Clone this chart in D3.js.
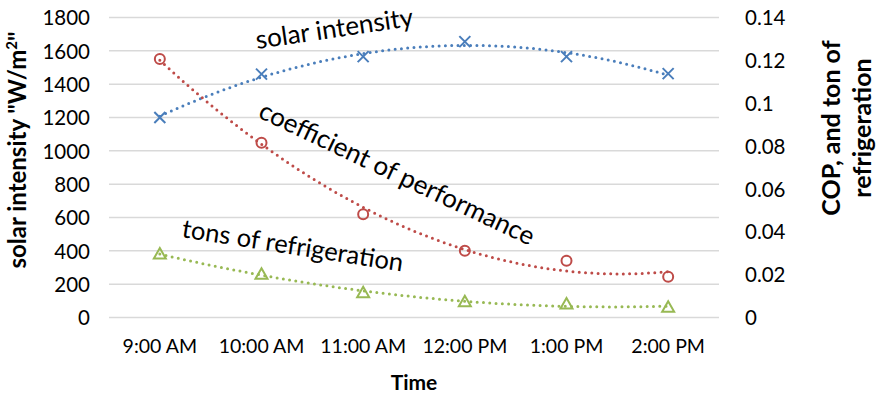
<!DOCTYPE html>
<html>
<head>
<meta charset="utf-8">
<script src="https://cdn.jsdelivr.net/npm/d3@7"></script>
<style>
  html, body { margin: 0; padding: 0; background: #fff; }
  svg { display: block; font-family: Lato, "Open Sans", sans-serif; }
</style>
</head>
<body>
<svg id="chart" width="880" height="397"></svg>
<script>
// Hourly readings
const times = ["9:00 AM", "10:00 AM", "11:00 AM", "12:00 PM", "1:00 PM", "2:00 PM"];
const solarIntensity = [1200, 1460, 1565, 1655, 1565, 1463];
const coefficientOfPerformance = [0.1206, 0.0816, 0.0482, 0.0312, 0.0265, 0.0190];
const tonsOfRefrigeration = [0.0296, 0.0202, 0.0116, 0.0074, 0.0063, 0.0048];

const leftTicks = [0, 200, 400, 600, 800, 1000, 1200, 1400, 1600, 1800];
const rightTicks = [0, 0.02, 0.04, 0.06, 0.08, 0.1, 0.12, 0.14];

const colors = { solar: "#4a7ebb", cop: "#be4b48", tons: "#98b954" };

const svg = d3.select("#chart");
const plot = { left: 109, right: 719, top: 17.5, bottom: 317.5 };

const x = d3.scaleBand().domain(times).range([plot.left, plot.right]).padding(0);
const cx = d => x(d) + x.bandwidth() / 2;
const yL = d3.scaleLinear().domain([0, 1800]).range([plot.bottom, plot.top]);
const yR = d3.scaleLinear().domain([0, 0.14]).range([plot.bottom, plot.top]);

// Gridlines
svg.append("g")
  .selectAll("line").data(leftTicks).join("line")
  .attr("x1", plot.left).attr("x2", plot.right)
  .attr("y1", d => yL(d)).attr("y2", d => yL(d))
  .attr("stroke", "#d9d9d9").attr("stroke-width", 1.5);

// Axes (labels only)
const axisL = d3.axisLeft(yL).tickValues(leftTicks).tickSize(0).tickPadding(0).tickFormat(d3.format("d"));
const gL = svg.append("g").attr("transform", `translate(${plot.left - 19},0)`).call(axisL);
const axisR = d3.axisRight(yR).tickValues(rightTicks).tickSize(0).tickPadding(0).tickFormat(d => String(+d.toFixed(2)));
const gR = svg.append("g").attr("transform", `translate(${plot.right + 26},0)`).call(axisR);
const axisB = d3.axisBottom(x).tickSize(0).tickPadding(0);
const gB = svg.append("g").attr("transform", `translate(0,${plot.bottom + 21})`).call(axisB);
[gL, gR, gB].forEach(g => {
  g.select(".domain").remove();
  g.selectAll("text").attr("font-family", "Lato, sans-serif").attr("font-size", 19.5).attr("fill", "#000");
});
gL.selectAll("text").attr("dy", "0.35em").attr("font-size", 20.5);
gR.selectAll("text").attr("dy", "0.35em").attr("font-size", 20.5);
gB.selectAll("text").attr("dy", "0.75em");

// Quadratic least-squares trend
function quadFit(ys) {
  const s = [0, 0, 0, 0, 0], t = [0, 0, 0];
  ys.forEach((yv, i) => {
    const xv = i + 1;
    for (let k = 0; k < 5; k++) s[k] += Math.pow(xv, k);
    for (let k = 0; k < 3; k++) t[k] += yv * Math.pow(xv, k);
  });
  const m = [[s[0], s[1], s[2], t[0]], [s[1], s[2], s[3], t[1]], [s[2], s[3], s[4], t[2]]];
  for (let i = 0; i < 3; i++) {
    for (let j = i + 1; j < 3; j++) {
      const f = m[j][i] / m[i][i];
      for (let k = i; k < 4; k++) m[j][k] -= f * m[i][k];
    }
  }
  const c = [0, 0, 0];
  for (let i = 2; i >= 0; i--) {
    let v = m[i][3];
    for (let k = i + 1; k < 3; k++) v -= m[i][k] * c[k];
    c[i] = v / m[i][i];
  }
  return xv => c[0] + c[1] * xv + c[2] * xv * xv;
}

const xPos = d3.scaleLinear().domain([1, times.length]).range([cx(times[0]), cx(times[times.length - 1])]);
const samples = d3.range(1, times.length + 0.001, 0.05);

function trend(values, yScale, color) {
  const f = quadFit(values);
  const line = d3.line().x(t => xPos(t)).y(t => yScale(f(t)));
  svg.append("path").datum(samples)
    .attr("d", line).attr("fill", "none")
    .attr("stroke", color).attr("stroke-width", 3)
    .attr("stroke-linecap", "round").attr("stroke-dasharray", "0 6.3");
}
trend(solarIntensity, yL, colors.solar);
trend(coefficientOfPerformance, yR, colors.cop);
trend(tonsOfRefrigeration, yR, colors.tons);

// Markers
const rows = times.map((t, i) => ({ t, s: solarIntensity[i], c: coefficientOfPerformance[i], r: tonsOfRefrigeration[i] }));

svg.append("g").selectAll("path").data(rows).join("path")
  .attr("transform", d => `translate(${cx(d.t)},${yL(d.s)})`)
  .attr("d", "M-5.5,-5.5L5.5,5.5M-5.5,5.5L5.5,-5.5")
  .attr("stroke", colors.solar).attr("stroke-width", 2).attr("fill", "none");

svg.append("g").selectAll("circle").data(rows).join("circle")
  .attr("cx", d => cx(d.t)).attr("cy", d => yR(d.c)).attr("r", 5)
  .attr("stroke", colors.cop).attr("stroke-width", 2).attr("fill", "none");

svg.append("g").selectAll("path").data(rows).join("path")
  .attr("transform", d => `translate(${cx(d.t)},${yR(d.r)})`)
  .attr("d", "M0,-6L6,4.5L-6,4.5Z")
  .attr("stroke", colors.tons).attr("stroke-width", 2).attr("fill", "none");

// Series labels along the curves
const labels = [
  { text: "solar intensity", x: 257, y: 49, a: -8.4, size: 26 },
  { text: "coefficient of performance", x: 257, y: 117, a: 25.3, size: 26 },
  { text: "tons of refrigeration", x: 181, y: 237, a: 8.9, size: 25.5 }
];
svg.append("g").selectAll("text").data(labels).join("text")
  .attr("transform", d => `translate(${d.x},${d.y}) rotate(${d.a})`)
  .attr("font-size", d => d.size).attr("fill", "#000")
  .text(d => d.text);

// Axis titles
svg.append("text")
  .attr("x", x.range()[0] + (x.range()[1] - x.range()[0]) / 2).attr("y", 390)
  .attr("text-anchor", "middle").attr("font-weight", "bold").attr("font-size", 21)
  .text("Time");

const tl = svg.append("text")
  .attr("transform", "translate(26,150) rotate(-90)")
  .attr("text-anchor", "middle").attr("font-weight", "bold").attr("font-size", 24);
tl.append("tspan").text("solar intensity \"W/m");
tl.append("tspan").attr("font-size", 15).attr("dy", -9).text("2");
tl.append("tspan").attr("dy", 9).text("\"");

const tr = svg.append("text")
  .attr("transform", "translate(840,128) rotate(-90)")
  .attr("text-anchor", "middle").attr("font-weight", "bold").attr("font-size", 25);
tr.append("tspan").attr("x", 0).attr("dy", 0).text("COP, and ton of");
tr.append("tspan").attr("x", 0).attr("dy", 31).text("refrigeration");
</script>
</body>
</html>
